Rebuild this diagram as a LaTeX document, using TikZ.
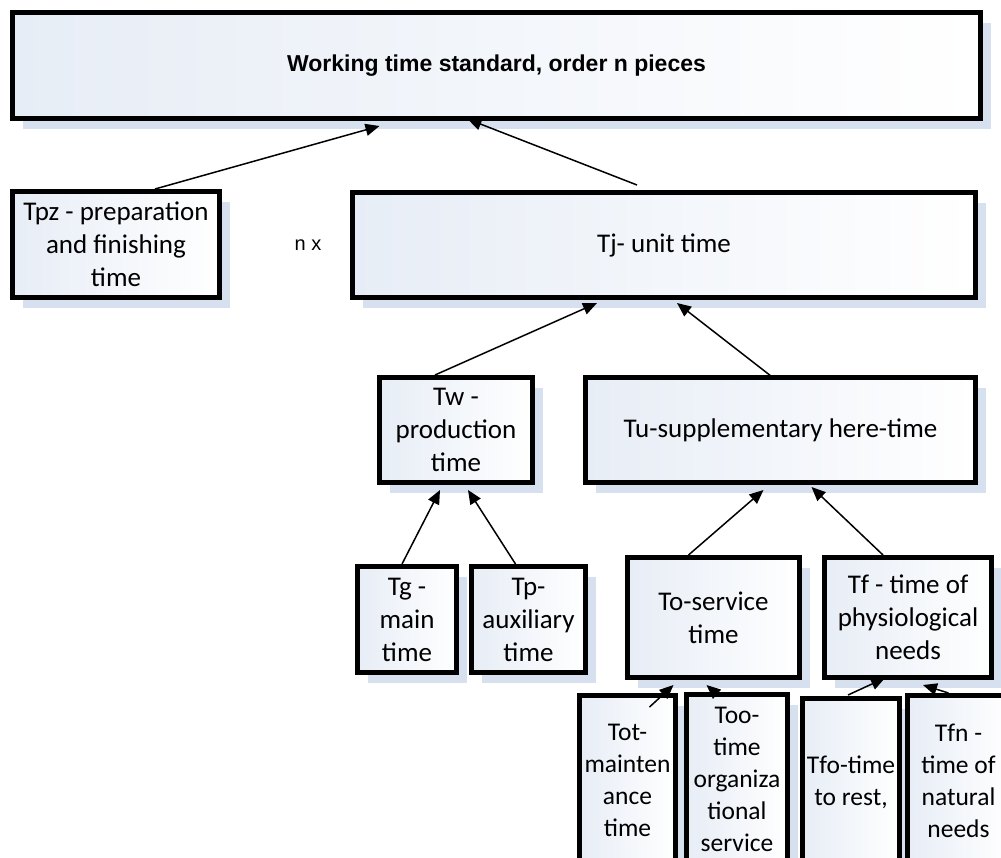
\documentclass[tikz,border=0pt]{standalone}
\usepackage{fontspec}
\setmainfont{Carlito}
\newfontfamily\arialfont{Liberation Sans}
\usetikzlibrary{arrows.meta,shadows}
\definecolor{boxL}{RGB}{231,237,246}
\definecolor{shadowc}{RGB}{214,224,238}
\begin{document}
\begin{tikzpicture}[x=1pt,y=-1pt,
  box/.style={draw=black, line width=5pt, left color=boxL, right color=white,
    general shadow={fill=shadowc, shadow xshift=10pt, shadow yshift=-10pt},
    align=center, inner sep=0pt, font=\fontsize{27}{33}\selectfont},
  lowbox/.style={box, font=\fontsize{25.5}{32}\selectfont},
  arr/.style={line width=1.5pt, -{Triangle[length=14pt,width=12pt]}}]
\useasboundingbox (0,0) rectangle (1001,857);

\node[box, minimum width=968pt, minimum height=106pt] (title) at (496.5,65.5)
  {\arialfont\bfseries\fontsize{23}{28}\selectfont Working time standard, order n pieces};
\node[box, minimum width=207pt, minimum height=106pt] (tpz) at (116,244.5)
  {Tpz - preparation\\and finishing\\time};
\node[font=\arialfont\fontsize{20}{24}\selectfont] (nx) at (308,245) {n x};
\node[box, minimum width=623pt, minimum height=105pt] (tj) at (664,245) {Tj- unit time};
\node[box, minimum width=153pt, minimum height=105pt] (tw) at (456,430) {Tw -\\production\\time};
\node[box, minimum width=390pt, minimum height=105pt] (tu) at (780.5,430) {Tu-supplementary here-time};
\node[box, minimum width=99pt, minimum height=106pt] (tg) at (407,619.5) {Tg -\\main\\time};
\node[box, minimum width=114pt, minimum height=106pt] (tp) at (528.5,619.5) {Tp-\\auxiliary\\time};
\node[box, minimum width=172pt, minimum height=120pt] (tos) at (713.5,617.5) {To-service\\time};
\node[box, minimum width=167pt, minimum height=120pt] (tf) at (908,617.5) {Tf - time of\\physiological\\needs};
\node[lowbox, minimum width=96pt, minimum height=170pt] (tot) at (627.5,780.5) {Tot-\\mainten\\ance\\time};
\node[lowbox, minimum width=101pt, minimum height=170pt] (too) at (737,779.5) {Too-\\time\\organiza\\tional\\service};
\node[lowbox, minimum width=97pt, minimum height=167pt] (tfo) at (851,782) {Tfo-time\\to rest,};
\node[lowbox, minimum width=102pt, minimum height=170pt] (tfn) at (958.5,780.5) {Tfn -\\time of\\natural\\needs};

\draw[arr] ([xshift=39pt]tpz.north) -- ([xshift=-117pt,yshift=-5pt]title.south);
\draw[arr] ([xshift=-27pt,yshift=5pt]tj.north) -- ([xshift=-29pt,yshift=2pt]title.south);
\draw[arr] ([xshift=-21pt]tw.north) -- ([xshift=-67pt,yshift=-3pt]tj.south);
\draw[arr] ([xshift=-7pt,yshift=-3pt]tu.north) -- ([xshift=13pt,yshift=-3pt]tj.south);
\draw[arr] ([xshift=-5pt]tg.north) -- ([xshift=-16pt,yshift=-5pt]tw.south);
\draw[arr] ([xshift=-13pt]tp.north) -- ([xshift=12pt,yshift=-5pt]tw.south);
\draw[arr] ([xshift=-25pt]tos.north) -- ([xshift=-17pt,yshift=-5pt]tu.south);
\draw[arr] ([xshift=-25pt]tf.north) -- ([xshift=31pt,yshift=-2pt]tu.south);
\draw[arr] ([xshift=22pt,yshift=-14pt]tot.north) -- ([xshift=-40pt,yshift=-5pt]tos.south);
\draw[arr] ([xshift=-18pt,yshift=-4pt]too.north) -- ([xshift=-7pt,yshift=-5pt]tos.south);
\draw[arr] ([xshift=-3pt,yshift=1pt]tfo.north) -- ([xshift=-23pt,yshift=2pt]tf.south);
\draw[arr] ([xshift=-10pt]tfn.north) -- ([xshift=15pt,yshift=-5pt]tf.south);
\end{tikzpicture}
\end{document}
